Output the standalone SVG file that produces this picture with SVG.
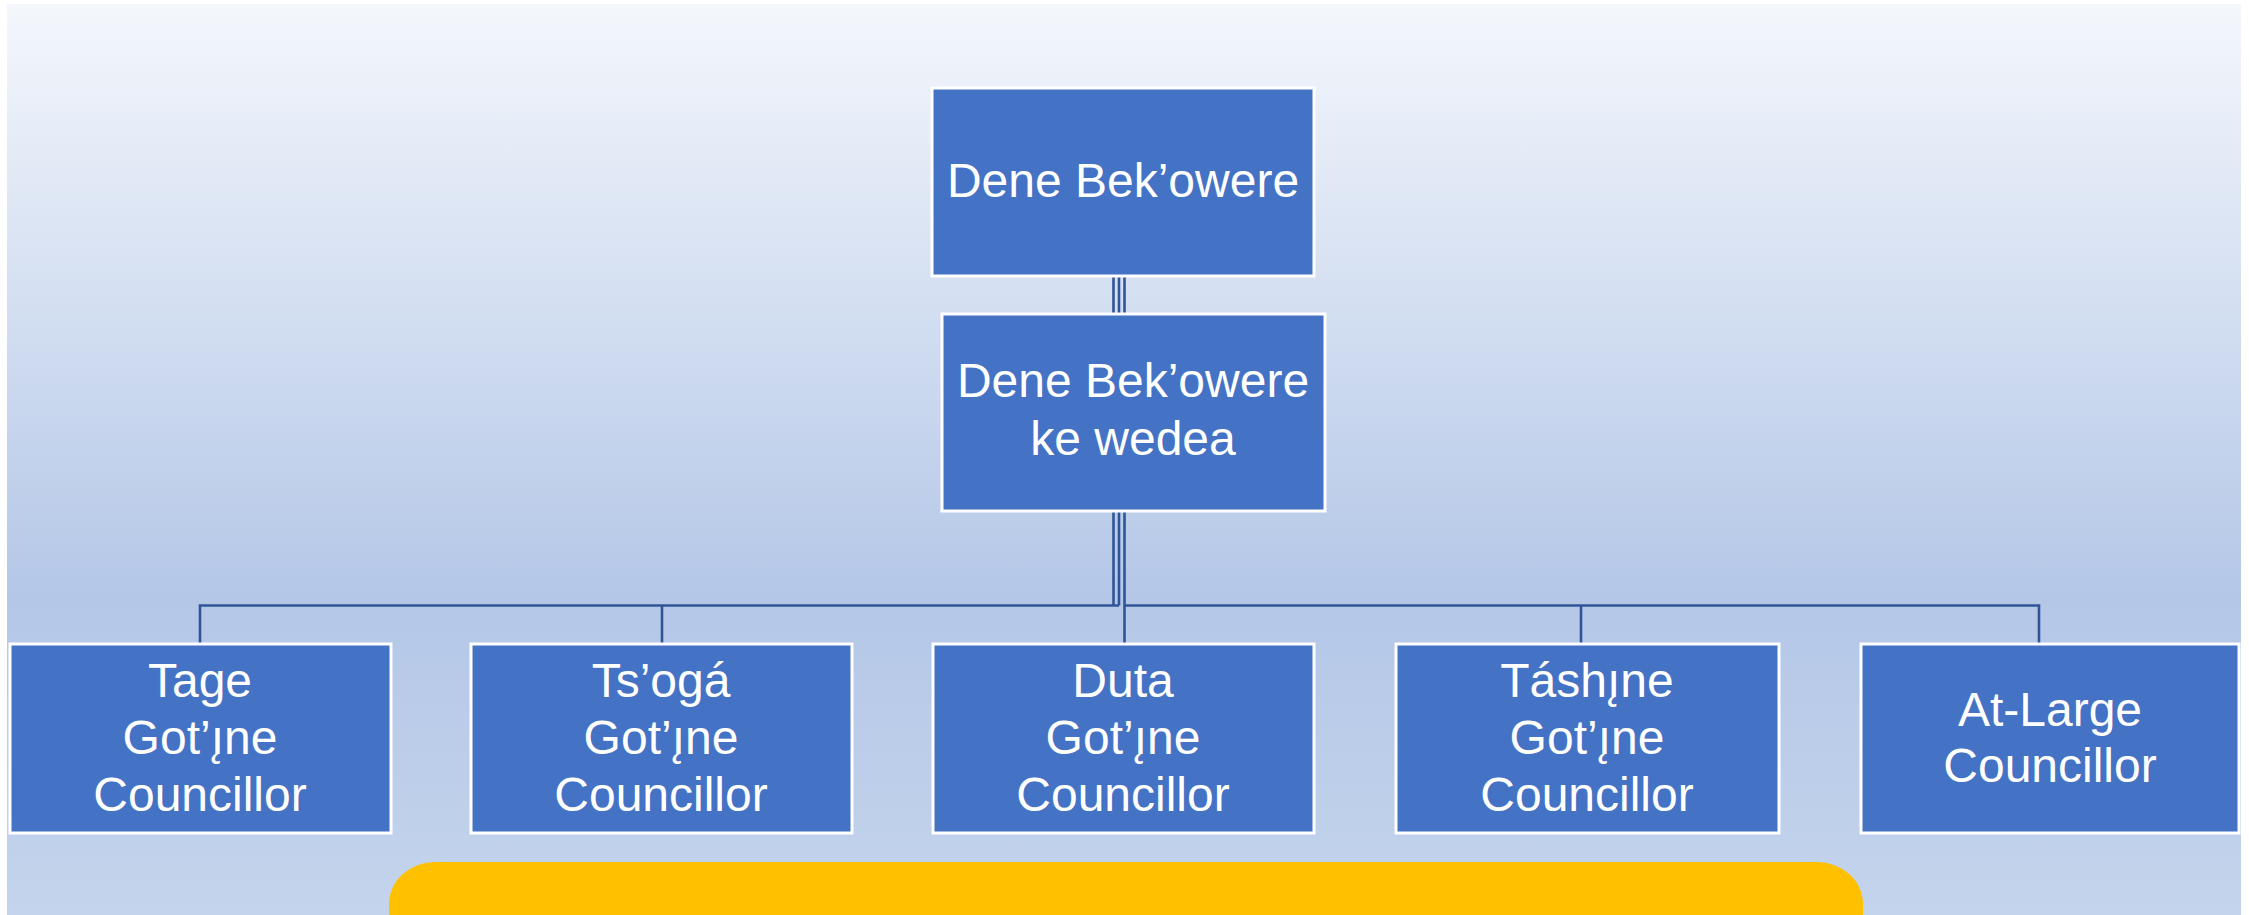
<svg xmlns="http://www.w3.org/2000/svg" width="2249" height="915" viewBox="0 0 2249 915">
<defs>
<linearGradient id="bg" x1="0" y1="0" x2="0" y2="1">
<stop offset="0" stop-color="#F4F7FC"/>
<stop offset="0.65" stop-color="#B4C7E7"/>
<stop offset="1" stop-color="#C4D4EC"/>
</linearGradient>
<style>
.box{fill:#4472C4;stroke:#FFFFFF;stroke-width:3}
.t{fill:#FFFFFF;font-family:"Liberation Sans",Arial,sans-serif;font-size:48px;text-anchor:middle}
.c{fill:none;stroke:#2F5597;stroke-width:2.6}
</style>
</defs>
<rect x="0" y="0" width="2249" height="915" fill="#FFFFFF"/>
<rect x="7" y="4" width="2234" height="911" fill="url(#bg)"/>
<rect id="banner" x="389" y="862" width="1474" height="120" rx="46" ry="42" fill="#FFC000"/>
<g id="connectors">
<line class="c" x1="1113.5" y1="276" x2="1113.5" y2="314"/>
<line class="c" x1="1119" y1="276" x2="1119" y2="314"/>
<line class="c" x1="1124.5" y1="276" x2="1124.5" y2="314"/>
<line class="c" x1="1113.5" y1="511" x2="1113.5" y2="605.5"/>
<line class="c" x1="1119" y1="511" x2="1119" y2="605.5"/>
<line class="c" x1="1124.5" y1="511" x2="1124.5" y2="644"/>
<polyline class="c" points="200,644 200,605.5 1119,605.5"/>
<line class="c" x1="662" y1="605.5" x2="662" y2="644"/>
<polyline class="c" points="1124.5,605.5 2039,605.5 2039,644"/>
<line class="c" x1="1581" y1="605.5" x2="1581" y2="644"/>
</g>
<g id="dene-bekowere">
<rect class="box" x="932" y="88" width="382" height="188"/>
<text class="t" x="1123" y="197">Dene Bek’owere</text>
</g>
<g id="dene-bekowere-ke-wedea">
<rect class="box" x="942" y="314" width="383" height="197"/>
<text class="t" x="1133" y="397">Dene Bek’owere</text>
<text class="t" x="1133" y="455">ke wedea</text>
</g>
<g id="tage">
<rect class="box" x="10" y="644" width="381" height="189"/>
<text class="t" x="200" y="697">Tage</text>
<text class="t" x="200" y="754">Got’ı̨ne</text>
<text class="t" x="200" y="811">Councillor</text>
</g>
<g id="tsoga">
<rect class="box" x="471" y="644" width="381" height="189"/>
<text class="t" x="661" y="697">Ts’ogá</text>
<text class="t" x="661" y="754">Got’ı̨ne</text>
<text class="t" x="661" y="811">Councillor</text>
</g>
<g id="duta">
<rect class="box" x="933" y="644" width="381" height="189"/>
<text class="t" x="1123" y="697">Duta</text>
<text class="t" x="1123" y="754">Got’ı̨ne</text>
<text class="t" x="1123" y="811">Councillor</text>
</g>
<g id="tashine">
<rect class="box" x="1396" y="644" width="383" height="189"/>
<text class="t" x="1587" y="697">Táshı̨ne</text>
<text class="t" x="1587" y="754">Got’ı̨ne</text>
<text class="t" x="1587" y="811">Councillor</text>
</g>
<g id="at-large">
<rect class="box" x="1861" y="644" width="378" height="189"/>
<text class="t" x="2050" y="726">At-Large</text>
<text class="t" x="2050" y="782">Councillor</text>
</g>
</svg>
